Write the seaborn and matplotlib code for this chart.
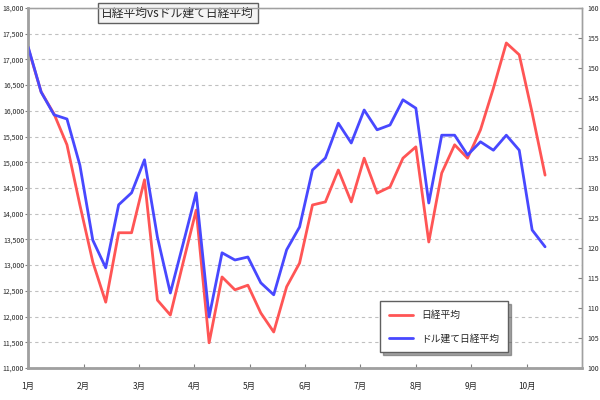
import numpy as np
import pandas as pd
import matplotlib
matplotlib.use('Agg')
import matplotlib.pyplot as plt
import seaborn as sns
from matplotlib.ticker import FuncFormatter

# weekly closes, week 0 = start of January
nikkei = [17220, 16370, 15940, 15340, 14170, 13060, 12280, 13630, 13630, 14660,
          12320, 12030, 13060, 14070, 11490, 12770, 12520, 12610, 12070, 11700,
          12580, 13040, 14170, 14230, 14850, 14230, 15080, 14400, 14520, 15080,
          15300, 13450, 14790, 15340, 15080, 15630, 16440, 17320, 17090, 15960,
          14750]
nikkei_usd = [153.5, 146.0, 142.2, 141.5, 133.8, 121.3, 116.7, 127.2, 129.2, 134.7,
              121.8, 112.5, 120.8, 129.2, 108.5, 119.2, 118.0, 118.5, 114.2, 112.2,
              119.7, 123.5, 133.0, 135.0, 140.8, 137.5, 143.0, 139.7, 140.5, 144.7,
              143.3, 127.5, 138.8, 138.8, 135.5, 137.7, 136.3, 138.8, 136.3, 123.0,
              120.2]
month_labels = ['1月', '2月', '3月', '4月', '5月', '6月', '7月', '8月', '9月', '10月']
title = '日経平均vsドル建て日経平均'
series_names = ['日経平均', 'ドル建て日経平均']

weeks = np.arange(len(nikkei))
df = pd.DataFrame({'month': weeks * 7 / 30, 'nikkei': nikkei, 'usd': nikkei_usd})

sns.set_style('white')
plt.rcParams['font.family'] = ['Noto Sans CJK JP', 'DejaVu Sans']

fig = plt.figure(figsize=(6, 4), dpi=100)
ax = fig.add_axes([0.047, 0.08, 0.923, 0.90])
ax2 = ax.twinx()

sns.lineplot(x='month', y='nikkei', data=df, ax=ax, color='#ff5555', lw=2, label=series_names[0], legend=False)
sns.lineplot(x='month', y='usd', data=df, ax=ax2, color='#4848ff', lw=2, label=series_names[1], legend=False)

ax.set_xlim(0, 10)
ax.set_ylim(11000, 18000)
ax2.set_ylim(100, 160)
ax.set_xticks(range(10))
ax.set_xticklabels(month_labels)
ax.set_yticks(np.arange(11000, 18001, 500))
ax2.set_yticks(np.arange(100, 161, 5))
ax.yaxis.set_major_formatter(FuncFormatter(lambda v, p: f'{int(v):,}'))
ax.set_xlabel('')
ax.set_ylabel('')
ax2.set_ylabel('')

ax.grid(axis='y', color='#c0c0c0', linestyle=(0, (3, 3)), lw=0.8)
ax.set_axisbelow(True)
for a in (ax, ax2):
    for s in a.spines.values():
        s.set_color('#a0a0a0')
        s.set_linewidth(1)
ax.spines['left'].set_linewidth(2)
ax.spines['bottom'].set_linewidth(2)
ax.spines['top'].set_color('#d0d0d0')
ax.tick_params(axis='x', labelsize=6, length=3, color='#808080', direction='in', bottom=True, pad=10)
ax.tick_params(axis='y', labelsize=5, length=2, color='#808080', direction='out', left=True, pad=1)
ax2.tick_params(axis='y', labelsize=5, length=3, right=True, color='#808080', direction='in', pad=4)

ax.text(0.27, 0.985, title, transform=ax.transAxes, ha='center', va='center', fontsize=8.5,
        bbox=dict(boxstyle='square,pad=0.3', fc='#f4f4f4', ec='#606060', lw=1))

h1, l1 = ax.get_legend_handles_labels()
h2, l2 = ax2.get_legend_handles_labels()
leg = ax2.legend(h1 + h2, l1 + l2, loc='lower right', bbox_to_anchor=(0.875, 0.03), fontsize=7,
                 frameon=True, fancybox=False, shadow=True, handlelength=2.5, labelspacing=1.4,
                 borderpad=0.9, edgecolor='#606060')
leg.get_frame().set_linewidth(1)

fig.savefig('out.png', dpi=100)
